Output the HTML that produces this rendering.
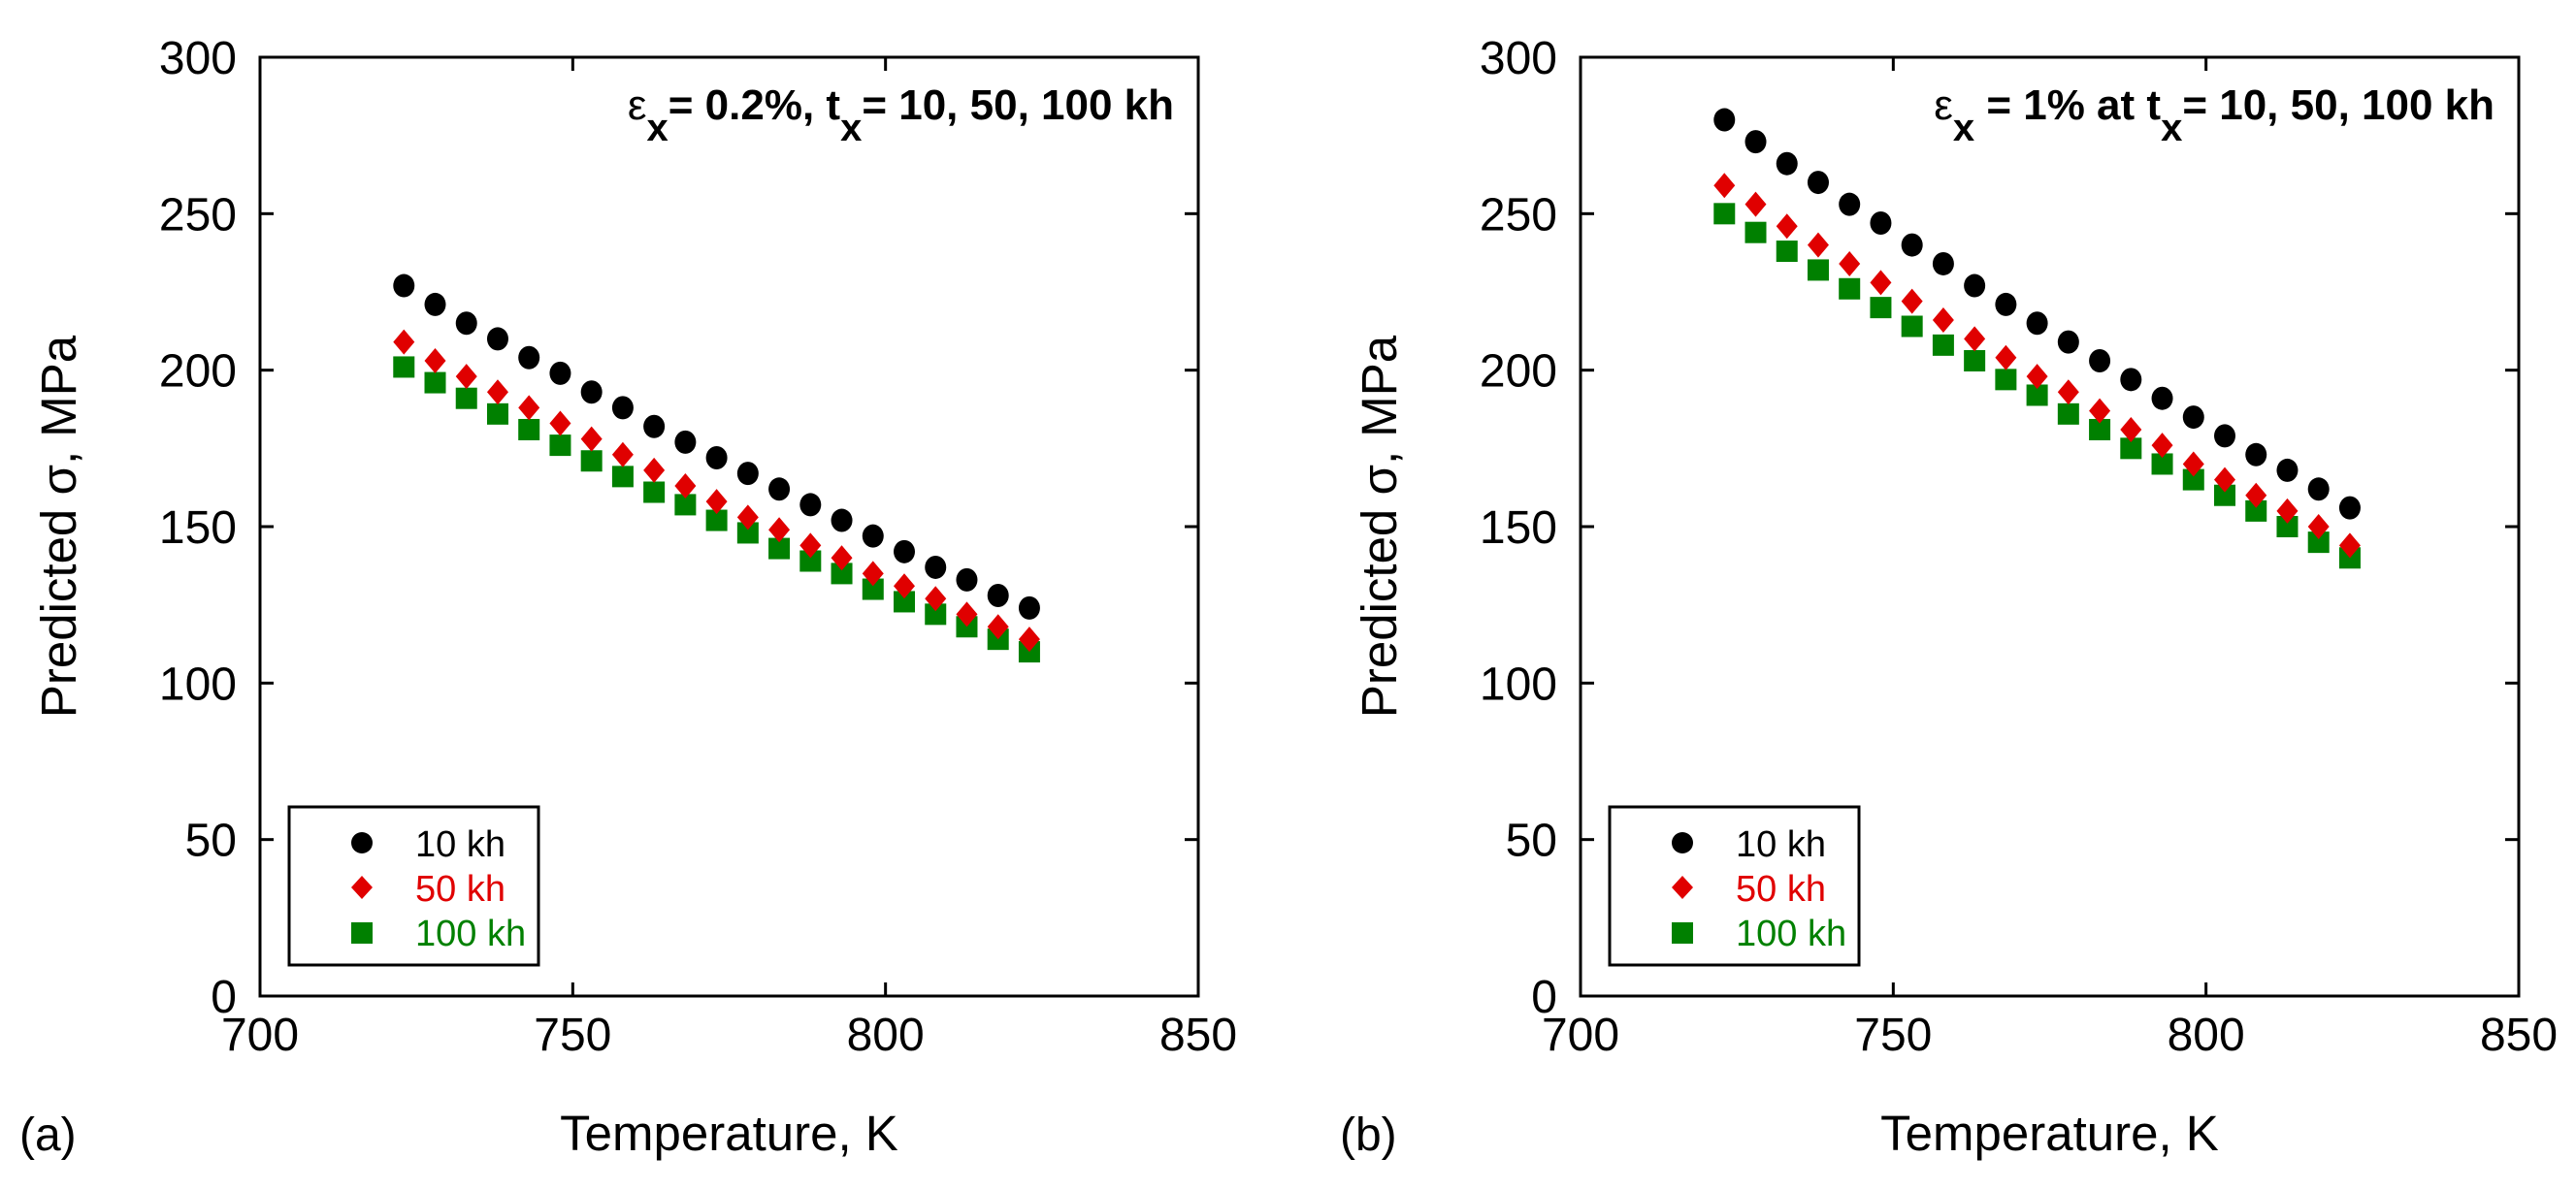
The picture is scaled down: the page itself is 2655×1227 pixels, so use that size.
<!DOCTYPE html>
<html><head><meta charset="utf-8"><style>
html,body{margin:0;padding:0;background:#fff;}
svg{display:block;font-family:"Liberation Sans",Arial,sans-serif;}
</style></head><body>
<svg id="chart" width="2655" height="1227" viewBox="0 0 2655 1227">
</svg>
<script>
const temps=[723,728,733,738,743,748,753,758,763,768,773,778,783,788,793,798,803,808,813,818,823];
const xTicks=[700,750,800,850];
const yTicks=[0,50,100,150,200,250,300];
const a10=[227,221,215,210,204,199,193,188,182,177,172,167,162,157,152,147,142,137,133,128,124];
const a50=[209,203,198,193,188,183,178,173,168,163,158,153,149,144,140,135,131,127,122,118,114];
const a100=[201,196,191,186,181,176,171,166,161,157,152,148,143,139,135,130,126,122,118,114,110];
const b10=[280,273,266,260,253,247,240,234,227,221,215,209,203,197,191,185,179,173,168,162,156];
const b50=[259,253,246,240,234,228,222,216,210,204,198,193,187,181,176,170,165,160,155,150,144];
const b100=[250,244,238,232,226,220,214,208,203,197,192,186,181,175,170,165,160,155,150,145,140];

const NS='http://www.w3.org/2000/svg';
const svg=document.getElementById('chart');
function mk(tag,attrs,parent,text){const e=document.createElementNS(NS,tag);for(const k in attrs)e.setAttribute(k,attrs[k]);if(text!==undefined)e.textContent=text;(parent||svg).appendChild(e);return e;}

function panel(id,x0,s10,s50,s100,label,annoParts){
  const W=967,H=968,top=59;
  const g=mk('g',{});
  
  
  const X=v=>x0+(v-700)/150*W;
  const Y=v=>top+H-(v/300)*H;
  const box=mk('rect',{x:x0,y:top,width:W,height:H,fill:'none',stroke:'#000','stroke-width':3},g);
  
  
  xTicks.forEach(t=>{
    const x=X(t);
    if(t>700&&t<850){mk('line',{x1:x,y1:top+H,x2:x,y2:top+H-14,stroke:'#000','stroke-width':3},g);mk('line',{x1:x,y1:top,x2:x,y2:top+14,stroke:'#000','stroke-width':3},g);}
    const tl=mk('text',{x:x,y:1083,'font-size':48,'text-anchor':'middle'},g,String(t));
    
    
  });
  yTicks.forEach(t=>{
    const y=Y(t);
    if(t>0&&t<300){mk('line',{x1:x0,y1:y,x2:x0+14,y2:y,stroke:'#000','stroke-width':3},g);mk('line',{x1:x0+W,y1:y,x2:x0+W-14,y2:y,stroke:'#000','stroke-width':3},g);}
    const tl=mk('text',{x:x0-24,y:y+17,'font-size':48,'text-anchor':'end'},g,String(t));
    
    
  });
  const xt=mk('text',{x:x0+W/2,y:1186,'font-size':51,'text-anchor':'middle'},g,'Temperature, K');
  
  
  const yt=mk('text',{x:0,y:0,'font-size':51,'text-anchor':'middle',transform:`translate(${x0-190},${top+H/2}) rotate(-90)`},g,'Predicted \u03c3, MPa');
  
  
  const pl=mk('text',{x:x0-248,y:1186,'font-size':48},g,label);
  
  
  const an=mk('text',{x:x0+W-25,y:123,'font-size':44,'font-weight':'bold','text-anchor':'end'},g);
  
  
  annoParts.forEach(p=>{const ts=mk('tspan',p.sub?{'font-size':40,dy:22}:(p.up?{dy:-22}:{'font-weight':'normal'}),an,p.t);});
  s100.forEach((v,i)=>{const r=mk('rect',{x:X(temps[i])-11,y:Y(v)-11,width:22,height:22,fill:'#008000'},g);});
  s50.forEach((v,i)=>{const cx=X(temps[i]),cy=Y(v);const p=mk('polygon',{points:`${cx},${cy-13} ${cx+11},${cy} ${cx},${cy+13} ${cx-11},${cy}`,fill:'#e00000'},g);});
  s10.forEach((v,i)=>{const c=mk('ellipse',{cx:X(temps[i]),cy:Y(v),rx:11,ry:12,fill:'#000'},g);});
  const lg=mk('g',{},g);
  
  
  const lx=x0+30;
  mk('rect',{x:lx,y:832,width:257,height:163,fill:'#fff',stroke:'#000','stroke-width':3},lg);
  const mx=lx+75;
  mk('circle',{cx:mx,cy:869,r:11,fill:'#000'},lg);
  mk('polygon',{points:`${mx},${903} ${mx+11},${915} ${mx},${927} ${mx-11},${915}`,fill:'#e00000'},lg);
  mk('rect',{x:mx-11,y:951,width:22,height:22,fill:'#008000'},lg);
  [['10 kh','#000',883],['50 kh','#e00000',929],['100 kh','#008000',975]].forEach(r=>{const t=mk('text',{x:lx+130,y:r[2],'font-size':38,fill:r[1]},lg,r[0]);});
}
panel('a',268,a10,a50,a100,'(a)',[{t:'\u03b5'},{t:'x',sub:true},{t:'= 0.2%, t',up:true},{t:'x',sub:true},{t:'= 10, 50, 100 kh',up:true}]);
panel('b',1629,b10,b50,b100,'(b)',[{t:'\u03b5'},{t:'x',sub:true},{t:' = 1% at t',up:true},{t:'x',sub:true},{t:'= 10, 50, 100 kh',up:true}]);
</script>
</body></html>
